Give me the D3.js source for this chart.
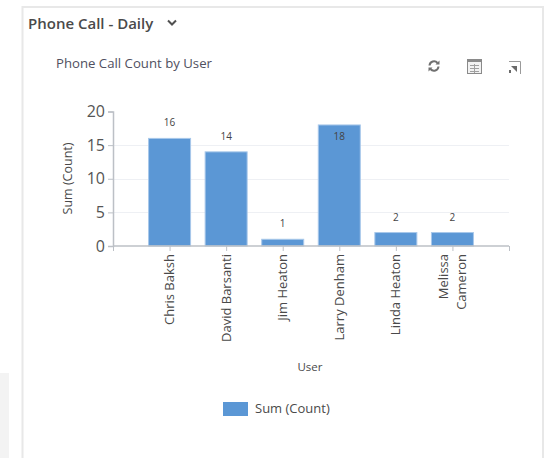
<!DOCTYPE html>
<html>
<head>
<meta charset="utf-8">
<script src="https://cdn.jsdelivr.net/npm/d3@7"></script>
<style>
  html, body { margin: 0; padding: 0; background: #fff; overflow: hidden; }
  text { font-family: "Open Sans", "Noto Sans", sans-serif; }
</style>
</head>
<body>
<div id="chart"></div>
<script>
// Chart data
const users = [["Chris Baksh"], ["David Barsanti"], ["Jim Heaton"], ["Larry Denham"], ["Linda Heaton"], ["Melissa", "Cameron"]];
const counts = [16, 14, 1, 18, 2, 2];
const yTicks = [0, 5, 10, 15, 20];
const seriesName = "Sum (Count)";

const width = 546, height = 458;
const margins = {top: 111.5, right: 37, bottom: 212, left: 113};
const barBlue = "#5b97d5";
const axisGrey = "#bcc0c6";
const textGrey = "#4a4a4a";

const svg = d3.select("#chart")
  .append("svg")
  .attr("width", width)
  .attr("height", height)
  .attr("viewBox", [0, 0, width, height])
  .style("display", "block");

/* Page furniture around the chart */
svg.append("rect")
  .attr("x", 0).attr("y", 373).attr("width", 9).attr("height", 85)
  .attr("fill", "#f3f3f3");

svg.append("path")
  .attr("d", "M22.5,458V7H543V458")
  .attr("fill", "none")
  .attr("stroke", "#e8e8e8")
  .attr("stroke-width", 2);

svg.append("text")
  .attr("x", 28).attr("y", 29)
  .attr("font-size", 15).attr("font-weight", 600)
  .attr("fill", textGrey)
  .text("Phone Call - Daily");

svg.append("path")
  .attr("d", "M168,20.5l4,4l4,-4")
  .attr("fill", "none")
  .attr("stroke", "#505050")
  .attr("stroke-width", 2);

svg.append("text")
  .attr("x", 56).attr("y", 68)
  .attr("font-size", 13.2)
  .attr("fill", "#505060")
  .text("Phone Call Count by User");

/* Toolbar icons */
const refresh = svg.append("g")
  .attr("transform", "translate(434,66)")
  .attr("fill", "none")
  .attr("stroke", "#707070")
  .attr("stroke-width", 2);
refresh.append("path").attr("d", "M-4.5,-0.5A4.5,4.5 0 0 1 3.5,-3");
refresh.append("path").attr("d", "M4.5,0.5A4.5,4.5 0 0 1 -3.5,3");
refresh.append("path").attr("d", "M1.5,-1.5H5.5V-5.5Z").attr("fill", "#707070").attr("stroke", "none");
refresh.append("path").attr("d", "M-1.5,1.5H-5.5V5.5Z").attr("fill", "#707070").attr("stroke", "none");

const grid = svg.append("g").attr("transform", "translate(467,59)");
grid.append("rect")
  .attr("x", 0.5).attr("y", 0.5).attr("width", 14).attr("height", 14)
  .attr("fill", "#f2f2f2")
  .attr("stroke", "#8a8a8a");
grid.append("rect")
  .attr("x", 1).attr("y", 1).attr("width", 13).attr("height", 2)
  .attr("fill", "#8a8a8a");
grid.append("path")
  .attr("d", "M3,6.5H12M3,9.5H12M3,12.5H12M7.5,5V14")
  .attr("stroke", "#a0a0a0")
  .attr("fill", "none");

const expand = svg.append("g").attr("transform", "translate(508,61)");
expand.append("path")
  .attr("d", "M1,0.5H12.5V13")
  .attr("fill", "none")
  .attr("stroke", "#9a9a9a");
expand.append("path").attr("d", "M3,5H9V11Z").attr("fill", "#6a6a6a");
expand.append("path").attr("d", "M1,9H3V12H1Z").attr("fill", "#6a6a6a");

/* Scales: the blank end slots put the outer axis ticks half a step past the bars */
const ids = d3.range(users.length);
const xScale = d3.scalePoint()
  .domain(["start", ...ids, "end"])
  .range([margins.left, width - margins.right]);

const yScale = d3.scaleLinear()
  .domain([0, 20])
  .range([height - margins.bottom, margins.top]);

/* Gridlines */
svg.append("g")
  .selectAll("line")
  .data(yTicks.filter(d => d > 0 && d < 20))
  .join("line")
    .attr("x1", margins.left)
    .attr("x2", width - margins.right)
    .attr("y1", d => Math.round(yScale(d)) + 0.5)
    .attr("y2", d => Math.round(yScale(d)) + 0.5)
    .attr("stroke", "#eef0f4");

/* Bars */
const barWidth = 42;
svg.append("g")
  .selectAll("rect")
  .data(counts)
  .join("rect")
    .attr("x", (d, i) => xScale(i) - barWidth / 2)
    .attr("y", d => yScale(d))
    .attr("width", barWidth)
    .attr("height", d => yScale(0) - yScale(d))
    .attr("fill", barBlue)
    .attr("stroke", "#a8c8ea")
    .attr("stroke-width", 1);

/* Value labels, the tallest bar keeps its label inside */
svg.append("g")
  .selectAll("text")
  .data(counts)
  .join("text")
    .attr("x", (d, i) => xScale(i))
    .attr("y", d => d === 18 ? yScale(d) + 15 : yScale(d) - 12)
    .attr("text-anchor", "middle")
    .attr("font-size", 10)
    .attr("fill", "#444")
    .text(d => d);

/* Axes */
const xAxis = d3.axisBottom(xScale).tickSize(5).tickFormat("");
const xGroup = svg.append("g")
  .attr("transform", `translate(0,${yScale(0)})`)
  .call(xAxis);
xGroup.selectAll(".domain").attr("d", `M${margins.left},0H${width - margins.right}`);
xGroup.selectAll(".domain, line").attr("stroke", axisGrey);
xGroup.selectAll(".domain").attr("stroke-width", 1.5);

const yAxis = d3.axisLeft(yScale).tickValues(yTicks).tickSize(5);
const yGroup = svg.append("g")
  .attr("transform", `translate(${margins.left},0)`)
  .call(yAxis);
yGroup.selectAll(".domain, line").attr("stroke", axisGrey);
yGroup.selectAll(".domain").attr("stroke-width", 1.5);
yGroup.selectAll("text")
  .attr("font-size", 16)
  .attr("font-family", "'Open Sans', sans-serif")
  .attr("fill", "#555");

/* Rotated user names, two-line names are stacked */
svg.append("g")
  .selectAll("text")
  .data(users)
  .join("text")
    .attr("transform", (d, i) => `translate(${xScale(i) + (d.length > 1 ? -8.5 : 0)},${yScale(0) + 8}) rotate(-90)`)
    .attr("text-anchor", "end")
    .attr("font-size", 13)
    .attr("fill", textGrey)
    .selectAll("tspan")
    .data(d => d)
    .join("tspan")
      .attr("x", 0)
      .attr("dy", (d, i) => i === 0 ? "0.35em" : 18)
      .text(d => d);

/* Axis titles */
svg.append("text")
  .attr("transform", "translate(72,178.5) rotate(-90)")
  .attr("text-anchor", "middle")
  .attr("font-size", 12.5)
  .attr("fill", textGrey)
  .text("Sum (Count)");

svg.append("text")
  .attr("x", 310).attr("y", 371)
  .attr("text-anchor", "middle")
  .attr("font-size", 11.5)
  .attr("fill", textGrey)
  .text("User");

/* Legend */
svg.append("rect")
  .attr("x", 223).attr("y", 402).attr("width", 25).attr("height", 14)
  .attr("fill", barBlue);
svg.append("text")
  .attr("x", 255).attr("y", 413)
  .attr("font-size", 13)
  .attr("fill", textGrey)
  .text(seriesName);
</script>
</body>
</html>
